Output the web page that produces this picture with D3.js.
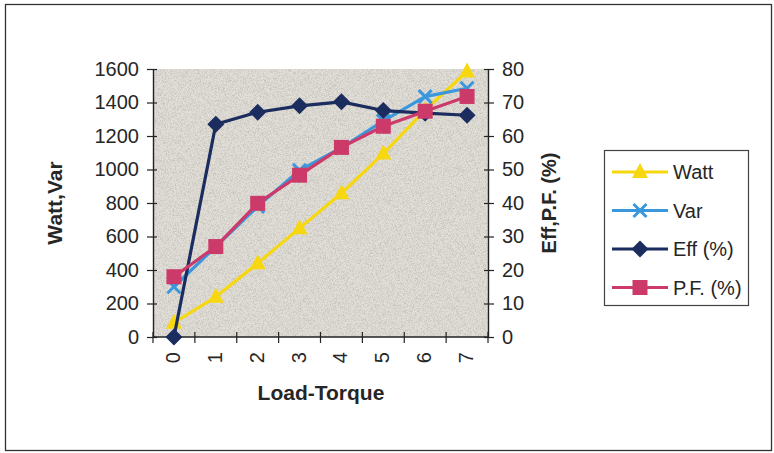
<!DOCTYPE html>
<html>
<head>
<meta charset="utf-8">
<script src="https://cdn.jsdelivr.net/npm/d3@7"></script>
<style>
  html, body { margin: 0; padding: 0; background: #fff; }
  svg { display: block; }
  text { font-family: "Liberation Sans", Arial, sans-serif; fill: #262626; }
</style>
</head>
<body>
<script>
// Load-Torque test data: power (Watt, Var) on the left axis, Eff and P.F. in % on the right axis
const loadTorque = ["0", "1", "2", "3", "4", "5", "6", "7"];
const watt  = [85, 240, 440, 650, 858, 1095, 1355, 1585];
const varQ  = [300, 540, 780, 995, 1130, 1290, 1435, 1485];
const eff   = [0, 63.5, 67.1, 69.0, 70.2, 67.6, 66.8, 66.2];
const pf    = [18.0, 27.0, 39.9, 48.3, 56.6, 62.9, 67.4, 71.8];
const leftTicks  = [0, 200, 400, 600, 800, 1000, 1200, 1400, 1600];
const rightTicks = [0, 10, 20, 30, 40, 50, 60, 70, 80];

const W = 774, H = 453;
const plot = { left: 153, right: 488, top: 69, bottom: 337 };

const svg = d3.select("body").append("svg").attr("width", W).attr("height", H);

// fine grain for the plot-area fill
const defs = svg.append("defs");
const f = defs.append("filter").attr("id", "grain").attr("x", 0).attr("y", 0).attr("width", 1).attr("height", 1);
f.append("feTurbulence").attr("type", "fractalNoise").attr("baseFrequency", 1.4).attr("numOctaves", 1).attr("seed", 4).attr("result", "n");
f.append("feColorMatrix").attr("in", "n").attr("type", "matrix")
  .attr("values", "0 0 0 0 0.42  0 0 0 0 0.40  0 0 0 0 0.37  0 0 0 -1.6 0.95");

// chart frame
svg.append("rect").attr("x", 5.5).attr("y", 4.5).attr("width", 766).attr("height", 446)
  .attr("fill", "#fff").attr("stroke", "#333").attr("stroke-width", 1.3);

const x = d3.scaleBand().domain(loadTorque).range([plot.left, plot.right]).padding(0);
const yL = d3.scaleLinear().domain([0, 1600]).range([plot.bottom, plot.top]);
const yR = d3.scaleLinear().domain([0, 80]).range([plot.bottom, plot.top]);
const cx = d => x(d) + x.bandwidth() / 2;

// plot area
svg.append("rect").attr("x", plot.left).attr("y", plot.top)
  .attr("width", plot.right - plot.left).attr("height", plot.bottom - plot.top)
  .attr("fill", "#e2dfd8");
svg.append("rect").attr("x", plot.left).attr("y", plot.top)
  .attr("width", plot.right - plot.left).attr("height", plot.bottom - plot.top)
  .attr("filter", "url(#grain)");

// axes
const axisStyle = g => {
  g.select(".domain").attr("stroke", "#222").attr("stroke-width", 1.4);
  g.selectAll(".tick line").attr("stroke", "#222").attr("stroke-width", 1.2);
  g.selectAll(".tick text").style("font-size", "20px").attr("fill", "#262626");
};

svg.append("g").attr("transform", `translate(${plot.left},0)`)
  .call(d3.axisLeft(yL).tickValues(leftTicks).tickFormat(d3.format("d"))
    .tickSizeInner(6).tickSizeOuter(0).tickPadding(8))
  .call(axisStyle)
  .call(g => g.selectAll(".tick line").attr("x2", -6).attr("x1", 4));

svg.append("g").attr("transform", `translate(${plot.right},0)`)
  .call(d3.axisRight(yR).tickValues(rightTicks).tickFormat(d3.format("d"))
    .tickSizeInner(6).tickSizeOuter(0).tickPadding(8))
  .call(axisStyle)
  .call(g => g.selectAll(".tick line").attr("x2", 6).attr("x1", -4));

// category axis: ticks sit between categories, labels rotated
const xAxisG = svg.append("g").attr("transform", `translate(0,${plot.bottom})`);
xAxisG.append("line").attr("x1", plot.left).attr("x2", plot.right)
  .attr("stroke", "#222").attr("stroke-width", 1.4);
const bounds = loadTorque.map(d => x(d)).concat([plot.right]);
xAxisG.selectAll("line.tk").data(bounds).join("line").attr("class", "tk")
  .attr("x1", d => d).attr("x2", d => d).attr("y1", -5).attr("y2", 6)
  .attr("stroke", "#222").attr("stroke-width", 1.2);
xAxisG.selectAll("text").data(loadTorque).join("text")
  .attr("transform", d => `translate(${cx(d) + 6},${15}) rotate(-90)`)
  .attr("text-anchor", "end")
  .style("font-size", "20px")
  .text(d => d);

// axis titles
svg.append("text").attr("transform", `translate(62,${(plot.top + plot.bottom) / 2}) rotate(-90)`)
  .attr("text-anchor", "middle").style("font-size", "21px").style("font-weight", "bold").text("Watt,Var");
svg.append("text").attr("transform", `translate(556,${(plot.top + plot.bottom) / 2}) rotate(-90)`)
  .attr("text-anchor", "middle").style("font-size", "20px").style("font-weight", "bold").text("Eff,P.F. (%)");
svg.append("text").attr("x", 321).attr("y", 400)
  .attr("text-anchor", "middle").style("font-size", "21px").style("font-weight", "bold").text("Load-Torque");

// series
const series = [
  { name: "Watt",     values: watt, y: yL, color: "#f7d70f", marker: "triangle" },
  { name: "Var",      values: varQ, y: yL, color: "#3a97dc", marker: "cross" },
  { name: "Eff (%)",  values: eff,  y: yR, color: "#1b2c5e", marker: "diamond" },
  { name: "P.F. (%)", values: pf,   y: yR, color: "#cc3a6a", marker: "square" }
];

function drawMarker(g, type, color) {
  if (type === "triangle") {
    g.append("path").attr("d", "M0,-9 L8,6 L-8,6 Z").attr("fill", color);
  } else if (type === "cross") {
    g.append("path").attr("d", "M-6.5,-6.5 L6.5,6.5 M-6.5,6.5 L6.5,-6.5").attr("stroke", color).attr("stroke-width", 3).attr("fill", "none");
  } else if (type === "diamond") {
    g.append("path").attr("d", "M0,-8.5 L8.5,0 L0,8.5 L-8.5,0 Z").attr("fill", color);
  } else {
    g.append("rect").attr("x", -7.5).attr("y", -7.5).attr("width", 15).attr("height", 15).attr("fill", color);
  }
}

series.forEach(s => {
  const line = d3.line().x((v, i) => cx(loadTorque[i])).y(v => s.y(v));
  svg.append("path").attr("d", line(s.values)).attr("fill", "none")
    .attr("stroke", s.color).attr("stroke-width", 3.2).attr("stroke-linejoin", "round");
  s.values.forEach((v, i) => {
    const g = svg.append("g").attr("transform", `translate(${cx(loadTorque[i])},${s.y(v)})`);
    drawMarker(g, s.marker, s.color);
  });
});

// legend
const lg = svg.append("g");
lg.append("rect").attr("x", 604.5).attr("y", 150.5).attr("width", 144).attr("height", 155)
  .attr("fill", "#fff").attr("stroke", "#444").attr("stroke-width", 1.2);
series.forEach((s, i) => {
  const yy = 172 + i * 38.5;
  lg.append("line").attr("x1", 612).attr("x2", 668).attr("y1", yy).attr("y2", yy)
    .attr("stroke", s.color).attr("stroke-width", 3);
  drawMarker(lg.append("g").attr("transform", `translate(640,${yy})`), s.marker, s.color);
  lg.append("text").attr("x", 673).attr("y", yy + 7).style("font-size", "20px").text(s.name);
});
</script>
</body>
</html>
